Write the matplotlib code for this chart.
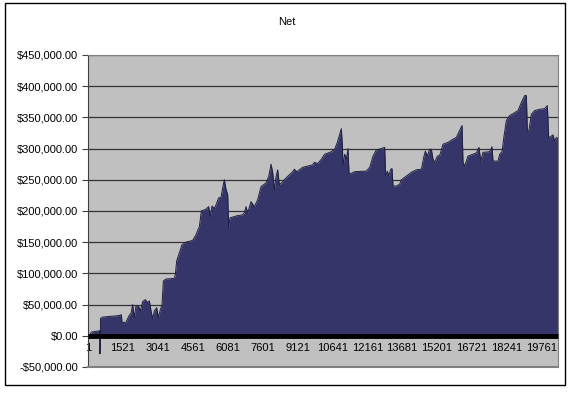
import matplotlib
matplotlib.use('Agg')
import matplotlib.pyplot as plt
from matplotlib.patches import Rectangle
from matplotlib.ticker import FuncFormatter

# trade number (category index) and running net
trade_idx = [1, 80, 160, 300, 494, 510, 520, 535, 545, 639, 929, 1365, 1452, 1481,
             1655, 1800, 1873, 1945, 2018, 2090, 2207, 2279, 2381, 2497, 2599, 2671,
             2744, 2816, 2889, 2991, 3063, 3136, 3223, 3281, 3397, 3760, 3803, 3861,
             3978, 4094, 4268, 4558, 4703, 4849, 4936, 5139, 5255, 5328, 5400, 5502,
             5575, 5691, 5792, 5865, 5938, 6010, 6083, 6126, 6184, 6446, 6736, 6809,
             6881, 6954, 7099, 7244, 7389, 7534, 7752, 7868, 7970, 8042, 8115, 8187,
             8260, 8333, 8478, 8623, 8913, 8986, 9088, 9204, 9349, 9784, 9857, 10002,
             10162, 10307, 10597, 10742, 10859, 10960, 11033, 11076, 11105, 11178,
             11250, 11323, 11367, 11613, 12121, 12267, 12412, 12557, 12775, 12920,
             12963, 13036, 13094, 13181, 13239, 13283, 13428, 13573, 13646, 13863,
             14081, 14299, 14517, 14633, 14691, 14778, 14880, 14952, 15025, 15097,
             15214, 15315, 15460, 15678, 15896, 16041, 16186, 16288, 16331, 16404,
             16549, 16767, 16912, 17028, 17101, 17202, 17493, 17594, 17638, 17856,
             17928, 18030, 18117, 18218, 18364, 18509, 18727, 18872, 19017, 19090,
             19133, 19206, 19307, 19452, 19670, 19888, 20004, 20062, 20178, 20251,
             20324, 20396, 20468]
net = [0, 2000, 6000, 7000, 8000, 8000, -29000, -10000, 28000, 30000, 31000, 32500,
       34000, 21000, 22000, 33000, 36000, 50000, 29000, 48000, 47000, 40000, 55000,
       58000, 53000, 56000, 40000, 27000, 40000, 45000, 29000, 40000, 50000, 88000,
       91000, 92000, 98000, 120000, 133000, 146000, 150000, 153000, 162000, 175000,
       200000, 203000, 207000, 191000, 208000, 204000, 210000, 221000, 222000,
       237000, 250000, 235000, 226000, 173000, 189000, 192000, 194000, 197000,
       207000, 197000, 215000, 207000, 218000, 239000, 245000, 255000, 275000,
       262000, 234000, 255000, 266000, 242000, 247000, 253000, 263000, 267000,
       263000, 266000, 270000, 274000, 278000, 276000, 283000, 291000, 295000,
       299000, 310000, 323000, 332000, 305000, 273000, 291000, 283000, 300000,
       259000, 263000, 264000, 270000, 288000, 298000, 300000, 302000, 256000,
       264000, 256000, 267000, 268000, 240000, 240000, 243000, 250000, 256000,
       262000, 266000, 267000, 288000, 296000, 288000, 299000, 299000, 283000,
       278000, 288000, 289000, 307000, 310000, 315000, 318000, 329000, 337000,
       278000, 272000, 288000, 291000, 293000, 302000, 280000, 294000, 295000,
       303000, 280000, 280000, 291000, 295000, 320000, 345000, 353000, 356000,
       361000, 374000, 385000, 385000, 328000, 330000, 355000, 361000, 363000,
       364000, 369000, 317000, 320000, 322000, 311000, 318000, 316000]

tick_pos = list(range(1, 20000, 1520))
tick_lab = [str(t) for t in tick_pos]
y_ticks = list(range(-50000, 450001, 50000))

fig = plt.figure(figsize=(5.74, 3.96), dpi=100)
plt.rcParams['font.family'] = ['Liberation Sans', 'DejaVu Sans']

ax = fig.add_axes([88 / 574, 1 - 367 / 396, 470 / 574, 312 / 396])
ax.set_facecolor('#C0C0C0')

# gridlines
for v in y_ticks[1:]:
    ax.axhline(v, color='#333333', lw=0.9, zorder=1)

ax.fill_between(trade_idx, net, 0, color='#35356A', lw=0, zorder=2)
ax.plot(trade_idx, net, color='#1E1E40', lw=0.7, zorder=3)

ax.set_xlim(0, 20468)
ax.set_ylim(-50000, 450000)

ax.spines['bottom'].set_position(('data', 0))
ax.spines['bottom'].set_linewidth(3.5)
ax.spines['bottom'].set_color('black')
ax.spines['bottom'].set_capstyle('butt')
ax.spines['bottom'].set_zorder(5)
for s in ['top', 'right']:
    ax.spines[s].set_color('#808080')
ax.spines['left'].set_color('#404040')
ax.axhline(-50000, color='#808080', lw=1.5, clip_on=False, zorder=4)

ax.set_xticks(tick_pos)
ax.set_xticklabels(tick_lab)
ax.tick_params(axis='x', length=0, pad=5, labelsize=8)
ax.set_yticks(y_ticks)
ax.yaxis.set_major_formatter(FuncFormatter(
    lambda v, p: ('-$' if v < 0 else '$') + f'{abs(v):,.2f}'))
ax.tick_params(axis='y', length=4, width=0.8, color='#404040', pad=3, labelsize=8)

fig.text(287 / 574, 1 - 22 / 396, 'Net', ha='center', va='center', fontsize=8)

fig.add_artist(Rectangle((5 / 574, 1 - 385 / 396), 560 / 574, 382 / 396,
                         transform=fig.transFigure, fill=False, ec='black', lw=1))

fig.savefig('out.png', dpi=100)
